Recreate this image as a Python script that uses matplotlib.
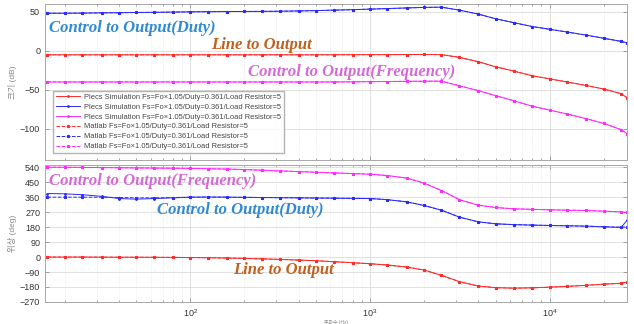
import numpy as np
import matplotlib
matplotlib.use("Agg")
import matplotlib.pyplot as plt
from matplotlib.ticker import LogLocator, NullFormatter

# frequency points (Hz)
freq = [16, 20, 25, 32, 40, 50, 63, 80, 100, 125, 160, 200, 250, 315, 400, 500, 630, 800,
        1000, 1250, 1600, 2000, 2500, 3150, 4000, 5000, 6300, 8000, 10000, 12500, 16000,
        20000, 25000, 27000]

# magnitude (dB)
mag_line = [-5.2, -5.2, -5.2, -5.2, -5.2, -5.2, -5.2, -5.2, -5.2, -5.2, -5.2, -5.2, -5.2, -5.2,
            -5.2, -5.2, -5.1, -5.1, -5.0, -5.0, -4.9, -4.8, -5.0, -8.5, -14, -20.5, -26, -32,
            -36, -40, -44.5, -49, -55, -60]
mag_duty = [48, 48, 48.2, 48.5, 48.7, 49, 49.2, 49.5, 49.8, 50, 50.2, 50.3, 50.4, 50.6, 51,
            51.4, 52, 52.6, 53.3, 54, 54.8, 55.5, 55.8, 52, 47, 41, 36, 31, 27.5, 24, 20, 16,
            12, 10]
mag_freq = [-40, -40, -40, -40, -40, -40, -40, -40, -40, -40, -40, -40, -40, -40, -40, -40,
            -40, -39.8, -39.6, -39.4, -39.2, -39, -39, -45, -51, -57.5, -64, -71, -76, -81,
            -87, -93, -101, -106]

# phase (deg)
ph_line = [0, 0, 0, -0.5, -1, -1, -1.5, -2, -3, -4, -6, -8, -11, -14, -18, -22, -28, -34,
           -40, -48, -60, -78, -110, -148, -174, -184, -187, -185, -181, -176, -170, -163,
           -158, -150]
ph_duty_plecs = [382, 380, 375, 365, 352, 348, 352, 356, 360, 361, 360, 359, 358, 357, 356,
                 355, 354, 353, 352, 345, 332, 310, 282, 240, 212, 200, 195, 192, 190, 188,
                 186, 182, 178, 220]
ph_duty_matlab = [360, 360, 360, 360, 358, 356, 356, 358, 360, 361, 360, 359, 358, 357, 356,
                  355, 354, 353, 352, 345, 332, 310, 282, 240, 212, 200, 195, 192, 190, 188,
                  186, 182, 180, 182]
ph_freq = [540, 540, 539, 538, 537, 536, 535, 534, 533, 531, 529, 526, 522, 518, 514, 510,
           506, 502, 498, 490, 475, 445, 400, 345, 312, 298, 290, 287, 284, 282, 280, 276,
           272, 268]

colors = {'line': '#ff2a2a', 'duty': '#2a2aff', 'freq': '#ff2aff'}
plecs_label = 'Plecs Simulation Fs=Fo×1.05/Duty=0.361/Load Resistor=5'
matlab_label = 'Matlab Fs=Fo×1.05/Duty=0.361/Load Resistor=5'

plt.rcParams['font.family'] = ['Liberation Sans', 'Noto Sans CJK KR', 'DejaVu Sans']

fig = plt.figure(figsize=(6.34, 3.24), dpi=100)
ax1 = fig.add_axes([0.071, 0.506, 0.918, 0.482])
ax2 = fig.add_axes([0.071, 0.068, 0.918, 0.423])

for ax in (ax1, ax2):
    ax.set_xscale('log')
    ax.set_xlim(15.5, 27000)
    ax.xaxis.set_major_locator(LogLocator(base=10))
    ax.xaxis.set_minor_locator(LogLocator(base=10, subs=np.arange(2, 10)))
    ax.xaxis.set_minor_formatter(NullFormatter())
    ax.grid(True, which='major', color='#dcdcdc', lw=0.6)
    ax.grid(True, which='minor', color='#e0e0e0', lw=0.5, ls=':')
    ax.tick_params(which='both', direction='in', top=True, right=True, colors='#808080',
                   labelcolor='#333333', labelsize=6.5, length=3, width=0.5)
    ax.tick_params(which='minor', length=1.5)
    for s in ax.spines.values():
        s.set_color('#a8a8a8')
        s.set_linewidth(0.7)

lw, ms = 0.7, 2.0

# magnitude plot
for key, vals in (('line', mag_line), ('duty', mag_duty), ('freq', mag_freq)):
    ax1.plot(freq, vals, color=colors[key], lw=lw, marker='.', ms=ms, label=plecs_label)
for key, vals in (('line', mag_line), ('duty', mag_duty), ('freq', mag_freq)):
    ax1.plot(freq, vals, color=colors[key], lw=lw, ls='--', marker='*', ms=ms,
             label=matlab_label)
ax1.set_ylim(-140, 60)
ax1.set_yticks([-100, -50, 0, 50])
ax1.tick_params(labelbottom=False)
ax1.set_ylabel('크기 (dB)', fontsize=6, color='#888888', labelpad=2)
leg = ax1.legend(loc='lower left', bbox_to_anchor=(0.008, 0.02), fontsize=5.4, frameon=True,
                 fancybox=False, edgecolor='#a0a0a0', handlelength=3.2, labelspacing=0.35,
                 borderpad=0.4, handletextpad=0.5)
for t in leg.get_texts():
    t.set_color('#444444')

# phase plot
ax2.plot(freq, ph_line, color=colors['line'], lw=lw, marker='.', ms=ms)
ax2.plot(freq, ph_duty_plecs, color=colors['duty'], lw=lw, marker='.', ms=ms)
ax2.plot(freq, ph_freq, color=colors['freq'], lw=lw, marker='.', ms=ms)
ax2.plot(freq, ph_line, color=colors['line'], lw=lw, ls='--', marker='*', ms=ms)
ax2.plot(freq, ph_duty_matlab, color=colors['duty'], lw=lw, ls='--', marker='*', ms=ms)
ax2.plot(freq, ph_freq, color=colors['freq'], lw=lw, ls='--', marker='*', ms=ms)
ax2.set_ylim(-270, 554)
ax2.set_yticks(np.arange(-270, 541, 90))
ax2.set_ylabel('위상 (deg)', fontsize=6, color='#888888', labelpad=2)
ax2.set_xlabel('주파수 (Hz)', fontsize=3.5, color='#888888', labelpad=1)

# annotations
tfont = dict(family='Liberation Serif', weight='bold', style='italic', fontsize=12)
c_duty, c_line, c_freq = '#2f8ad0', '#c0601e', '#d46ad4'
ax1.text(16.3, 29, 'Control to Output(Duty)', color=c_duty, va='center', **tfont)
ax1.text(248, 7.4, 'Line to Output', color=c_line, va='center', ha='center', **tfont)
ax1.text(210, -27, 'Control to Output(Frequency)', color=c_freq, va='center', **tfont)
ax2.text(16.4, 459, 'Control to Output(Frequency)', color=c_freq, va='center', **tfont)
ax2.text(65, 282, 'Control to Output(Duty)', color=c_duty, va='center', **tfont)
ax2.text(173, -80, 'Line to Output', color=c_line, va='center', **tfont)

fig.savefig('out.png', dpi=100)
